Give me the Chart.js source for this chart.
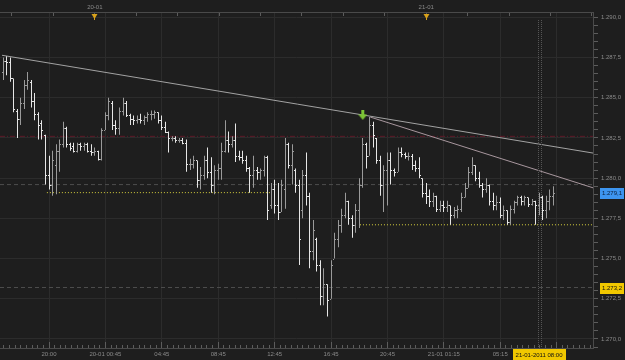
<!DOCTYPE html>
<html>
<head>
<meta charset="utf-8">
<script src="https://cdn.jsdelivr.net/npm/chart.js@4.4.1/dist/chart.umd.min.js"></script>
<style>
html, body { margin: 0; padding: 0; background: #1e1e1e; }
#chart { display: block; }
</style>
</head>
<body>
<canvas id="chart" width="625" height="360"></canvas>
<script>
// 15 min bars, 19-01 16:45 .. 21-01 08:45 (bar index on the x axis)
const opens = [
	1.2866,1.2873,1.2872,1.2862,1.2842,1.2837,1.2847,1.2858,1.2860,1.2848,
	1.2840,1.2834,1.2827,1.2802,1.2796,1.2808,1.2817,1.2821,1.2831,1.2821,
	1.2820,1.2817,1.2821,1.2820,1.2821,1.2817,1.2816,1.2817,1.2812,1.2830,
	1.2839,1.2847,1.2833,1.2831,1.2842,1.2847,1.2839,1.2837,1.2836,1.2837,
	1.2836,1.2838,1.2840,1.2840,1.2841,1.2836,1.2832,1.2829,1.2825,1.2825,
	1.2824,1.2824,1.2822,1.2809,1.2809,1.2811,1.2799,1.2802,1.2811,1.2804,
	1.2796,1.2805,1.2806,1.2817,1.2824,1.2821,1.2824,1.2814,1.2813,1.2811,
	1.2806,1.2802,1.2805,1.2804,1.2805,1.2813,1.2783,1.2793,1.2783,1.2779,
	1.2793,1.2821,1.2808,1.2805,1.2796,1.2780,1.2802,1.2789,1.2755,1.2762,
	1.2746,1.2727,1.2734,1.2725,1.2750,1.2762,1.2771,1.2777,1.2786,1.2775,
	1.2771,1.2780,1.2796,1.2821,1.2814,1.2833,1.2825,1.2811,1.2796,1.2805,
	1.2811,1.2805,1.2804,1.2816,1.2815,1.2814,1.2814,1.2808,1.2806,1.2800,
	1.2791,1.2789,1.2786,1.2789,1.2781,1.2783,1.2782,1.2783,1.2777,1.2780,
	1.2781,1.2788,1.2794,1.2804,1.2808,1.2800,1.2796,1.2793,1.2796,1.2786,
	1.2783,1.2785,1.2777,1.2780,1.2773,1.2781,1.2785,1.2788,1.2786,1.2788,
	1.2784,1.2786,1.2783,1.2788,1.2780,1.2786,1.2789
];
const highs = [
	1.2875,1.2876,1.2875,1.2862,1.2843,1.2850,1.2861,1.2866,1.2861,1.2853,
	1.2841,1.2836,1.2827,1.2814,1.2817,1.2821,1.2824,1.2835,1.2832,1.2822,
	1.2822,1.2822,1.2822,1.2822,1.2822,1.2821,1.2819,1.2817,1.2831,1.2841,
	1.2850,1.2848,1.2836,1.2844,1.2850,1.2848,1.2840,1.2839,1.2839,1.2840,
	1.2839,1.2841,1.2842,1.2842,1.2841,1.2839,1.2835,1.2829,1.2826,1.2826,
	1.2825,1.2825,1.2824,1.2812,1.2814,1.2811,1.2807,1.2814,1.2819,1.2813,
	1.2808,1.2809,1.2822,1.2836,1.2829,1.2826,1.2834,1.2817,1.2817,1.2814,
	1.2807,1.2814,1.2807,1.2806,1.2814,1.2814,1.2797,1.2799,1.2797,1.2799,
	1.2825,1.2822,1.2821,1.2806,1.2799,1.2805,1.2816,1.2791,1.2774,1.2763,
	1.2749,1.2744,1.2734,1.2749,1.2766,1.2774,1.2781,1.2791,1.2786,1.2777,
	1.2784,1.2800,1.2825,1.2822,1.2838,1.2835,1.2825,1.2814,1.2808,1.2816,
	1.2816,1.2806,1.2819,1.2819,1.2816,1.2816,1.2815,1.2811,1.2813,1.2800,
	1.2797,1.2793,1.2791,1.2789,1.2786,1.2786,1.2786,1.2783,1.2782,1.2783,
	1.2791,1.2797,1.2807,1.2813,1.2808,1.2804,1.2797,1.2800,1.2796,1.2791,
	1.2789,1.2788,1.2783,1.2780,1.2783,1.2786,1.2789,1.2789,1.2789,1.2788,
	1.2787,1.2786,1.2791,1.2789,1.2789,1.2793,1.2795
];
const lows = [
	1.2861,1.2864,1.2860,1.2841,1.2825,1.2833,1.2843,1.2855,1.2844,1.2836,
	1.2824,1.2824,1.2796,1.2793,1.2789,1.2790,1.2804,1.2819,1.2819,1.2817,
	1.2816,1.2816,1.2817,1.2817,1.2816,1.2814,1.2814,1.2811,1.2811,1.2830,
	1.2836,1.2830,1.2827,1.2827,1.2839,1.2838,1.2833,1.2833,1.2834,1.2834,
	1.2833,1.2835,1.2836,1.2837,1.2834,1.2830,1.2828,1.2816,1.2823,1.2822,
	1.2822,1.2821,1.2804,1.2805,1.2806,1.2794,1.2793,1.2799,1.2800,1.2791,
	1.2790,1.2799,1.2799,1.2816,1.2816,1.2819,1.2810,1.2811,1.2809,1.2804,
	1.2791,1.2794,1.2799,1.2799,1.2801,1.2774,1.2781,1.2778,1.2774,1.2779,
	1.2781,1.2806,1.2796,1.2791,1.2746,1.2775,1.2783,1.2744,1.2749,1.2742,
	1.2721,1.2721,1.2714,1.2725,1.2750,1.2757,1.2766,1.2775,1.2771,1.2763,
	1.2766,1.2769,1.2794,1.2806,1.2814,1.2819,1.2809,1.2789,1.2779,1.2783,
	1.2796,1.2801,1.2804,1.2813,1.2812,1.2811,1.2805,1.2804,1.2800,1.2788,
	1.2784,1.2782,1.2782,1.2779,1.2779,1.2779,1.2779,1.2771,1.2775,1.2775,
	1.2779,1.2788,1.2794,1.2802,1.2798,1.2794,1.2788,1.2791,1.2783,1.2780,
	1.2780,1.2775,1.2774,1.2771,1.2771,1.2778,1.2783,1.2783,1.2783,1.2782,
	1.2783,1.2771,1.2777,1.2774,1.2775,1.2780,1.2783
];
const closes = [
	1.2873,1.2872,1.2862,1.2843,1.2837,1.2847,1.2858,1.2861,1.2848,1.2840,
	1.2833,1.2830,1.2802,1.2796,1.2811,1.2817,1.2821,1.2831,1.2821,1.2819,
	1.2817,1.2821,1.2820,1.2821,1.2817,1.2816,1.2817,1.2812,1.2830,1.2839,
	1.2848,1.2833,1.2831,1.2842,1.2847,1.2839,1.2837,1.2836,1.2837,1.2836,
	1.2838,1.2840,1.2840,1.2841,1.2836,1.2832,1.2829,1.2825,1.2825,1.2824,
	1.2824,1.2822,1.2809,1.2809,1.2811,1.2799,1.2802,1.2811,1.2804,1.2796,
	1.2805,1.2806,1.2817,1.2824,1.2821,1.2824,1.2814,1.2813,1.2811,1.2806,
	1.2802,1.2805,1.2804,1.2805,1.2813,1.2780,1.2793,1.2783,1.2779,1.2796,
	1.2821,1.2808,1.2817,1.2796,1.2762,1.2802,1.2789,1.2755,1.2768,1.2746,
	1.2727,1.2734,1.2724,1.2746,1.2762,1.2771,1.2777,1.2786,1.2775,1.2771,
	1.2780,1.2796,1.2821,1.2814,1.2833,1.2827,1.2811,1.2796,1.2805,1.2811,
	1.2805,1.2804,1.2816,1.2815,1.2814,1.2814,1.2808,1.2806,1.2802,1.2791,
	1.2789,1.2786,1.2789,1.2781,1.2783,1.2782,1.2783,1.2777,1.2780,1.2781,
	1.2788,1.2794,1.2804,1.2808,1.2800,1.2796,1.2793,1.2796,1.2786,1.2783,
	1.2785,1.2777,1.2780,1.2773,1.2781,1.2785,1.2788,1.2786,1.2788,1.2784,
	1.2786,1.2783,1.2788,1.2780,1.2786,1.2789,1.2791
];

// bottom time axis (bar index -> label)
const timeTickIdx  = [13, 29, 45, 61, 77, 93, 109, 125, 141, 157];
const timeTickText = ['20:00', '20-01 00:45', '04:45', '08:45', '12:45', '16:45', '20:45', '21-01 01:15', '05:15', '09:15'];
// top day axis
const dayIdx  = [26, 120];
const dayText = ['20-01', '21-01'];

// drawn objects
const trendLine1 = [{x: -0.34, y: 1.28764}, {x: 167.3, y: 1.28156}];
const trendLine2 = [{x: 104.1, y: 1.2838}, {x: 167.3, y: 1.2794}];
const redLevel = 1.2826;
const greyLevels = [1.2796, 1.2732];
const support1 = [{x: 12.4, y: 1.2791}, {x: 75.7, y: 1.2791}];
const support2 = [{x: 101.2, y: 1.2771}, {x: 167.3, y: 1.2771}];
const arrowMark = [{x: 102, y: 1.2839}];
const cursorIdx = 152;
const cursorText = '21-01-2011 08:00';
const markPrice = 1.2732;

const xMin = -0.9, xMax = 167.3;
const yMin = 1.26944, yMax = 1.29033;

const upColor = '#9a9a9a';
const downColor = '#e6e6e6';
const labelColor = '#8a8a8a';
const gridColor = '#2c2c2c';
const fontName = '"Liberation Sans", Arial, sans-serif';

const barColors = opens.map((o, i) => closes[i] >= o ? upColor : downColor);
const hlData = lows.map((l, i) => ({x: i, y: [l, highs[i]]}));

function priceLabel(v) {
	let s = v.toFixed(4);
	return s.slice(0, 5) + ',' + s.slice(5);
}
function isMajorPrice(v) {
	let n = v / 0.0025;
	return Math.abs(n - Math.round(n)) < 1e-6;
}
function levelLine(p) {
	return [{x: xMin, y: p}, {x: xMax, y: p}];
}
function noPadding(scale) {
	scale.paddingLeft = 0;
	scale.paddingRight = 0;
	scale.paddingTop = 0;
	scale.paddingBottom = 0;
}

// green down arrow
const arrowImg = document.createElement('canvas');
arrowImg.width = 9; arrowImg.height = 10;
(function () {
	let a = arrowImg.getContext('2d');
	a.fillStyle = '#7cc535';
	a.fillRect(3, 0, 3, 5);
	a.beginPath();
	a.moveTo(0, 4); a.lineTo(9, 4); a.lineTo(4.5, 9.5);
	a.closePath();
	a.fill();
})();

// open / close ticks on the high-low bars
const ohlcTicks = {
	id: 'ohlcTicks',
	beforeDatasetDraw(chart, args) {
		if (args.index !== 0) return;
		args.meta.data.forEach(el => { el.x = Math.floor(el.x) + 0.5; });
	},
	afterDatasetDraw(chart, args) {
		if (args.index !== 0) return;
		const ctx = chart.ctx, y = chart.scales.y;
		ctx.save();
		args.meta.data.forEach((el, i) => {
			let px = Math.floor(el.x);
			ctx.fillStyle = barColors[i];
			ctx.fillRect(px - 1, Math.round(y.getPixelForValue(opens[i])), 1, 1);
			ctx.fillRect(px + 1, Math.round(y.getPixelForValue(closes[i])), 1, 1);
		});
		ctx.restore();
	}
};

// axis decorations, cursor and price boxes
const decorations = {
	id: 'decorations',
	afterDraw(chart) {
		const ctx = chart.ctx;
		const {x, y, xTop} = chart.scales;
		const area = chart.chartArea;
		ctx.save();

		// inner ticks on the bottom axis
		ctx.fillStyle = '#5c5c5c';
		x.ticks.forEach(t => {
			let px = Math.floor(x.getPixelForValue(t.value));
			let len = t.major ? 6 : 3;
			ctx.fillRect(px, area.bottom - len, 1, len);
		});

		// top axis: 3 hour ticks and day markers
		let step = (dayIdx[1] - dayIdx[0]) / 8;
		for (let n = -3; n <= 12; n++) {
			let px = Math.floor(xTop.getPixelForValue(dayIdx[0] + n * step));
			if (px < area.left || px > area.right) continue;
			ctx.fillRect(px, area.top + 1, 1, 3);
		}
		ctx.fillStyle = '#d9a21b';
		dayIdx.forEach(d => {
			let px = Math.floor(xTop.getPixelForValue(d)) + 0.5;
			ctx.beginPath();
			ctx.moveTo(px - 3, area.top + 2);
			ctx.lineTo(px + 3, area.top + 2);
			ctx.lineTo(px, area.top + 7);
			ctx.closePath();
			ctx.fill();
			ctx.fillRect(px - 0.5, area.top + 6, 1, 2);
		});

		// cursor
		let cx = x.getPixelForValue(cursorIdx);
		ctx.strokeStyle = '#555555';
		ctx.lineWidth = 1;
		ctx.setLineDash([1, 1]);
		[-1.5, 1.5].forEach(d => {
			let px = Math.round(cx + d) + 0.5;
			ctx.beginPath();
			ctx.moveTo(px, area.top + 8);
			ctx.lineTo(px, area.bottom);
			ctx.stroke();
		});
		ctx.setLineDash([]);

		ctx.font = '6px ' + fontName;
		ctx.textBaseline = 'middle';

		// cursor time box
		ctx.textAlign = 'center';
		let tw = ctx.measureText(cursorText).width + 6;
		ctx.fillStyle = '#f1c800';
		ctx.fillRect(Math.round(cx - tw / 2), area.bottom + 1, Math.round(tw), 11);
		ctx.fillStyle = '#111111';
		ctx.fillText(cursorText, cx, area.bottom + 7);

		// price boxes
		ctx.textAlign = 'left';
		[[closes[closes.length - 1], '#3d95ef', '#0b1e3a'], [markPrice, '#f1c800', '#111111']].forEach(b => {
			let py = Math.round(y.getPixelForValue(b[0]));
			ctx.fillStyle = b[1];
			ctx.fillRect(area.right + 7, py - 5, 24, 11);
			ctx.fillStyle = b[2];
			ctx.fillText(priceLabel(b[0]), area.right + 9, py + 0.5);
		});
		ctx.restore();
	}
};

Chart.defaults.font.family = fontName;
Chart.defaults.font.size = 6;
Chart.defaults.color = labelColor;

new Chart(document.getElementById('chart'), {
	type: 'bar',
	data: {
		datasets: [
			{
				type: 'bar',
				data: hlData,
				backgroundColor: barColors,
				borderWidth: 0,
				barThickness: 1,
				inflateAmount: 0,
				order: 2
			},
			{ type: 'line', data: levelLine(redLevel), borderColor: '#5e1a28', borderWidth: 1, borderDash: [5, 2, 1, 2], pointRadius: 0, order: 4 },
			{ type: 'line', data: levelLine(greyLevels[0]), borderColor: '#4e4e4e', borderWidth: 1, borderDash: [4, 3], pointRadius: 0, order: 4 },
			{ type: 'line', data: levelLine(greyLevels[1]), borderColor: '#4e4e4e', borderWidth: 1, borderDash: [4, 3], pointRadius: 0, order: 4 },
			{ type: 'line', data: support1, borderColor: '#d6cf3e', borderWidth: 1, borderDash: [1, 2], pointRadius: 0, order: 3 },
			{ type: 'line', data: support2, borderColor: '#d6cf3e', borderWidth: 1, borderDash: [1, 2], pointRadius: 0, order: 3 },
			{ type: 'line', data: trendLine1, borderColor: '#a3a3a3', borderWidth: 1, pointRadius: 0, order: 1 },
			{ type: 'line', data: trendLine2, borderColor: '#a8979e', borderWidth: 1, pointRadius: 0, order: 1 },
			{ type: 'scatter', data: arrowMark, pointStyle: arrowImg, pointRadius: 5, order: 0 }
		]
	},
	options: {
		responsive: false,
		animation: false,
		events: [],
		layout: { padding: 0, autoPadding: false },
		plugins: { legend: { display: false }, tooltip: { enabled: false } },
		scales: {
			x: {
				type: 'linear',
				position: 'bottom',
				min: xMin,
				max: xMax,
				offset: false,
				afterBuildTicks(scale) {
					let t = [];
					let base = timeTickIdx[0] - 16;
					for (let n = 0; base + n * 1.6 <= xMax; n++) {
						let v = base + n * 1.6;
						if (v < xMin) continue;
						t.push({value: v, major: n % 10 === 0});
					}
					scale.ticks = t;
				},
				afterFit(scale) { scale.height = 12; noPadding(scale); },
				ticks: {
					autoSkip: false,
					maxRotation: 0,
					padding: 3,
					color: labelColor,
					callback(v, i, ticks) {
						if (!ticks[i].major) return '';
						let k = timeTickIdx.indexOf(Math.round(v));
						return k < 0 ? '' : timeTickText[k];
					}
				},
				grid: {
					drawTicks: false,
					offset: false,
					color: c => (c.tick && c.tick.major) ? gridColor : 'rgba(0,0,0,0)'
				},
				border: { color: '#4a4a4a' }
			},
			xTop: {
				type: 'linear',
				axis: 'x',
				position: 'top',
				min: xMin,
				max: xMax,
				offset: false,
				afterBuildTicks(scale) {
					scale.ticks = dayIdx.map(v => ({value: v}));
				},
				afterFit(scale) { scale.height = 12; noPadding(scale); },
				ticks: {
					autoSkip: false,
					maxRotation: 0,
					padding: 1,
					callback(v) {
						let k = dayIdx.indexOf(Math.round(v));
						return k < 0 ? '' : dayText[k];
					}
				},
				grid: { drawOnChartArea: false, drawTicks: false, offset: false },
				border: { color: '#4a4a4a' }
			},
			y: {
				type: 'linear',
				position: 'right',
				min: yMin,
				max: yMax,
				afterFit(scale) { scale.width = 32; noPadding(scale); },
				ticks: {
					stepSize: 0.0005,
					includeBounds: false,
					autoSkip: false,
					padding: 3,
					color: labelColor,
					callback: v => isMajorPrice(v) ? priceLabel(v) : ''
				},
				grid: {
					tickLength: 5,
					tickColor: '#5c5c5c',
					color: c => (c.tick && isMajorPrice(c.tick.value)) ? gridColor : 'rgba(0,0,0,0)'
				},
				border: { color: '#4a4a4a' }
			}
		}
	},
	plugins: [ohlcTicks, decorations]
});
</script>
</body>
</html>
